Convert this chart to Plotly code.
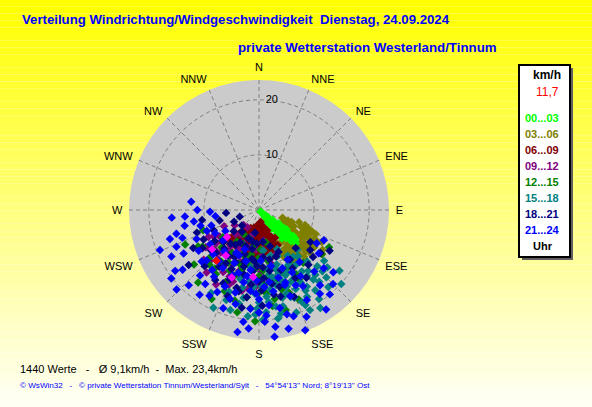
import plotly.graph_objects as go

W, H = 592, 407

# Windrichtungen (Grad) und Kompasstexte
richtung_grad = [0, 22.5, 45, 67.5, 90, 112.5, 135, 157.5, 180, 202.5, 225, 247.5, 270, 292.5, 315, 337.5]
richtung_text = ["N", "NNE", "NE", "ENE", "E", "ESE", "SE", "SSE", "S", "SSW", "SW", "WSW", "W", "WNW", "NW", "NNW"]

# Messwerte je Zeitraum: (Richtung Grad, Geschwindigkeit km/h), aus dem Bild geschaetzt
pts_0003 = [(135,0.4),(132,0.8),(138,1.1),(130,1.5),(141,1.7),(128,2.0),(136,2.2),(144,2.4),(131,2.7),(139,2.9),
            (126,3.1),(134,3.3),(142,3.5),(129,3.8),(137,4.0),(146,4.1),(124,4.3),(132,4.5),(140,4.7),(127,5.0),
            (135,5.2),(143,5.4),(130,5.7),(138,5.9),(125,6.1),(133,6.3),(141,6.6),(128,6.9),(136,7.1),(131,7.5),
            (127,7.8),(134,8.1),(130,8.6),(132,9.0),(129,4.8),(137,3.6),(133,1.3),(139,6.0),(126,5.5),(145,3.0),
            (134,0.6),(136,1.4),(131,1.9),(138,2.6),(133,2.4),(129,3.2),(135,3.9),(140,3.9),(131,4.2),(127,4.6),
            (134,4.9),(138,5.1),(128,5.6),(132,5.8),(140,6.2),(135,6.8),(129,6.3),(133,7.3),(130,7.9),(128,8.3)]
pts_0306 = [(108,4.5),(112,5.2),(118,4.8),(124,5.6),(130,6.0),(136,6.5),(142,6.9),(148,7.2),(152,6.8),(110,6.3),
            (115,7.0),(121,7.4),(127,7.8),(133,8.2),(139,8.6),(145,9.0),(150,9.4),(107,7.6),(112,8.3),(118,8.8),
            (123,9.2),(129,9.6),(135,10.0),(141,10.4),(147,10.1),(110,9.5),(115,10.2),(120,10.6),(126,11.0),(132,11.3),
            (138,11.1),(144,11.5),(113,11.2),(118,11.8),(124,12.1),(130,12.0),(122,13.6),(125,14.0),(117,12.8),(140,8.0),
            (134,7.2),(128,6.8),(146,8.4),(151,8.8),(120,6.0),(114,5.8),(137,9.4),(143,9.8),(131,10.6),(125,8.4),
            (110,5.6),(116,6.2),(122,6.6),(128,7.2),(134,8.6),(140,9.2),(146,9.6),(152,9.6),(108,8.8),(114,9.0),
            (120,9.6),(126,10.2),(132,9.2),(138,10.0),(144,10.8),(150,10.2),(112,10.4),(118,11.2),(124,11.6),(130,11.0),
            (136,11.8),(142,12.0),(116,9.6),(122,8.0),(148,11.2)]
pts_0609 = [(172,2.2),(180,2.6),(188,2.9),(165,3.2),(196,3.4),(205,3.6),(176,3.8),(158,4.0),(214,4.1),(184,4.3),
            (192,4.6),(168,4.8),(200,5.0),(210,5.2),(220,5.5),(155,5.4),(176,5.6),(186,5.9),(162,6.1),(195,6.3),
            (205,6.5),(215,6.7),(225,6.9),(170,6.8),(180,7.1),(152,7.2),(190,7.4),(200,7.6),(210,7.9),(220,8.2),
            (160,7.8),(174,8.0),(184,8.3),(194,8.6),(230,8.8),(166,8.9),(178,9.2),(188,9.0),(204,8.8),(214,9.3),
            (157,6.4),(182,4.9),(198,4.0),(208,6.0),(218,4.8),(170,5.2),(226,7.4),(163,3.9),(150,5.8),(192,7.0),
            (168,3.0),(178,3.4),(190,3.8),(202,4.4),(212,4.6),(160,4.6),(174,4.6),(186,5.2),(196,5.6),(206,5.8),
            (216,6.0),(224,6.0),(164,5.6),(180,6.2),(190,6.6),(200,6.8),(210,7.2),(218,7.6),(170,7.6),(182,7.8),
            (196,8.0),(206,8.4),(158,6.8),(228,7.8),(188,8.2),
            (175,4.0),(185,3.6),(195,4.8),(205,4.8),(172,6.0),(182,6.8),(192,5.4),(202,6.0),(212,6.4),(222,6.4),
            (178,8.6),(198,7.2),(208,7.0),(166,7.2),(186,7.4)]
pts_0912 = [(226,3.9),(230,7.6),(208,7.9),(202,14.7),(195,12.8),(174,7.3),(215,5.5),(188,6.2),(240,9.5),(235,11.8),
            (222,10.4),(212,12.0),(200,10.0),(185,9.3),(178,11.2),(168,9.8),(196,4.8),(205,6.6),(218,8.3),(228,13.5),
            (192,15.0),(182,13.8),(164,12.4),(158,8.5),(210,15.6),(245,7.0),(238,5.2),(220,14.8),(190,8.1),(172,5.6),
            (206,9.2),(198,11.6),(186,10.8),(214,3.8),(232,9.9),(150,10.5),(176,14.5),(224,6.1),(204,13.2),(160,14.0),
            (212,9.8),(196,9.6),(180,10.2),(220,11.6),(206,11.0),(190,12.2),(172,12.8),(228,10.8),(200,13.8),(184,7.2),
            (194,7.0),(216,9.0),(236,8.6),(166,10.6),(210,13.0),(188,14.4),(224,12.8),(178,8.4),(242,10.4),(202,8.6)]
pts_1215 = [(217,13.3),(185,17.9),(195,17.0),(125,13.9),(237,12.2),(239,12.9),(200,8.5),(190,10.2),(180,12.0),(170,9.4),
            (210,11.0),(225,9.6),(205,14.4),(175,15.2),(165,13.0),(188,6.4),(198,5.5),(178,7.2),(215,7.0),(230,15.4),
            (192,19.0),(182,20.2),(172,17.6),(160,16.0),(155,11.8),(208,18.3),(220,17.2),(250,10.8),(245,14.8),(200,12.6),
            (185,14.0),(195,9.0),(168,6.0),(212,5.2),(176,11.0),(188,16.0),(226,12.4),(150,14.6),(165,18.8),(203,16.0),
            (140,12.5),(118,14.4),(233,8.2),(205,6.8),(181,8.8),
            (196,11.2),(184,10.8),(172,12.0),(206,12.2),(216,11.6),(186,13.0),(160,12.0),(150,13.4),(176,13.6),(196,14.8),
            (212,9.2),(222,13.4),(164,15.0),(180,15.0),(200,10.4),(170,16.4),(190,8.2),(156,17.8),(230,11.0),(214,14.0)]
pts_1518 = [(134,14.7),(135,17.3),(137,12.8),(151,18.0),(155,18.4),(200,17.4),(196,18.9),(181,17.9),(140,11.0),(145,13.6),
            (150,15.2),(156,12.5),(160,14.8),(165,16.5),(170,13.2),(175,15.8),(162,10.4),(148,9.8),(142,16.0),(138,18.8),
            (146,19.5),(153,20.4),(158,17.2),(168,19.2),(178,20.0),(186,19.4),(190,16.2),(185,12.8),(192,14.4),(172,10.8),
            (180,9.6),(166,8.5),(155,7.8),(130,16.2),(127,18.3),(132,20.1),(144,10.5),(152,11.3),(163,12.1),(170,17.8),
            (176,18.6),(160,19.8),(150,16.9),(141,14.2),(136,10.0),(128,15.0),(183,15.2),(195,13.0),(200,15.8),(205,19.6),
            (210,17.4),(174,7.4),(188,10.6),(158,9.0),(148,21.0),(162,16.0),(167,14.0),(139,15.6),(145,17.8),(171,11.9),
            (146,12.0),(152,13.8),(158,12.8),(164,11.2),(168,12.6),(155,15.8),(160,16.8),(172,14.6),(178,13.8),(184,14.0),
            (150,11.0),(144,14.8),(140,17.0),(134,16.0),(166,18.0),(174,16.8),(180,16.8),(156,14.2),(148,16.4),(162,13.6),
            (188,13.2),(192,17.4),(170,20.0),(182,19.0),(154,19.2)]
pts_1821 = [(255,7.4),(251,3.7),(196,14.7),(128,11.8),(200,5.5),(210,6.8),(220,8.0),(190,7.2),(185,9.4),(195,10.6),
            (205,11.8),(215,12.6),(225,11.0),(235,9.8),(240,13.8),(175,8.6),(170,11.2),(180,13.0),(165,14.4),(160,9.0),
            (150,12.2),(145,15.0),(188,16.0),(230,6.0),(245,5.0),(260,10.5),(232,16.2),(212,15.0),(200,16.6),(178,17.4),
            (158,17.0),(138,13.4),(122,11.0),(190,4.2),(184,6.1),(198,8.4),(208,9.6),(218,5.0),(228,4.2),(173,5.8),
            (163,6.9),(155,8.4),(170,15.6),(193,12.0),(203,13.7),(186,11.2),(176,12.4),(214,10.0),(148,10.6),(136,9.6),
            (250,12.0),(265,6.0),(242,11.4),(224,14.2),(120,14.8),(125,13.6),(131,13.0),
            (182,10.2),(188,9.0),(196,9.8),(204,10.4),(212,11.4),(220,12.0),(176,10.4),(168,9.2),(200,7.0),(192,5.8),
            (214,7.6),(222,9.4),(230,11.4),(236,12.4),(178,14.6),(186,13.6),(194,15.2),(206,14.8),(160,11.6),(152,14.0),
            (166,16.2),(190,18.0),(246,9.0),(228,8.6),(170,13.6)]
pts_2124 = [(277,12.4),(265,15.9),(265,13.5),(268,8.9),(232,17.6),(234,18.8),(223,18.7),(215,18.8),(207,16.7),(188,20.5),
            (185,21.6),(177,20.3),(162,20.3),(152,18.5),(173,23.2),(166,22.2),(159,23.4),(140,20.0),(141,17.6),(120,12.1),
            (245,12.5),(250,14.8),(255,11.0),(240,15.8),(236,13.2),(228,14.0),(222,16.0),(218,13.8),(212,12.4),(205,10.6),
            (198,12.0),(192,13.4),(186,14.8),(180,16.2),(174,17.4),(168,18.2),(160,16.6),(154,15.2),(148,14.2),(144,18.8),
            (132,15.8),(126,13.4),(115,13.0),(260,12.0),(248,10.2),(242,9.0),(235,10.8),(226,11.6),(216,10.2),(208,8.8),
            (200,7.6),(194,9.6),(188,11.0),(182,12.8),(176,14.0),(170,15.0),(164,12.8),(158,11.4),(150,10.4),(210,18.0),
            (200,19.0),(194,17.6),(180,18.6),(172,21.4),(190,22.5),(165,19.6),(156,21.2),(146,21.8),(135,19.0),(242,18.0),
            (252,17.0),(258,13.8),(270,11.2),(262,8.0),(238,7.2),(230,8.6),(220,9.8),(216,16.6),(204,15.2),(198,17.0),
            (185,18.0),(178,9.2),(168,10.4),(161,14.4),(152,12.8),(142,12.0),(138,15.0),(130,17.6),(232,20.2),(226,20.8),
            (246,16.4),(254,15.6),(248,19.4),(252,9.1),
            (190,12.2),(202,12.8),(214,14.6),(226,13.2),(172,13.2),(160,14.0),(150,16.0),(182,15.2),(196,15.6),(204,9.0),
            (218,11.8),(176,19.2)]
pts_magenta = [(230,11.1),(230,7.6),(185,12.2),(202,13.2),(216,10.2)]
pts_rot = [(220,12.0)]

gruppen = [
    ("00...03", "#00FF00", pts_0003),
    ("03...06", "#808000", pts_0306),
    ("06...09", "#800000", pts_0609),
    ("09...12", "#800080", pts_0912),
    ("12...15", "#008000", pts_1215),
    ("15...18", "#008080", pts_1518),
    ("18...21", "#000080", pts_1821),
    ("21...24", "#0000FF", pts_2124),
]
extra = [("#FF00FF", pts_magenta), ("#FF0000", pts_rot)]

aktuell = "11,7"
stat_text = "1440 Werte   -   Ø 9,1km/h  -  Max. 23,4km/h"
fuss_text = "© WsWin32   -   © private Wetterstation Tinnum/Westerland/Sylt   -   54°54'13'' Nord; 8°19'13'' Ost"
titel1 = "Verteilung Windrichtung/Windgeschwindigkeit  Dienstag, 24.09.2024"
titel2 = "private Wetterstation Westerland/Tinnum"


def px(x):
    return x / W


def py(y):
    return 1 - y / H


def nb(s):
    return s.replace(" ", "\u00a0")


# Zeichenreihenfolge: 03...06 unter 00...03, danach chronologisch
reihenfolge = [1, 0, 2, 3, 4, 5, 6, 7]

fig = go.Figure()
for k in reihenfolge:
    name, farbe, pts = gruppen[k]
    fig.add_trace(go.Scatterpolar(
        theta=[p[0] for p in pts], r=[p[1] for p in pts], mode="markers",
        marker=dict(symbol="diamond", size=6.5, color=farbe, line_width=0),
        name=name, showlegend=False))
for farbe, pts in extra:
    fig.add_trace(go.Scatterpolar(
        theta=[p[0] for p in pts], r=[p[1] for p in pts], mode="markers",
        marker=dict(symbol="diamond", size=6.5, color=farbe, line_width=0),
        showlegend=False))

# Hintergrund: Verlauf gelb -> hellgelb
shapes = []
n = 60
for i in range(n):
    t = i / (n - 1)
    b = int(round(245 * t))
    shapes.append(dict(type="rect", xref="paper", yref="paper", x0=0, x1=1,
                       y0=1 - (i + 1) / n, y1=1 - i / n, layer="below",
                       line_width=0, fillcolor=f"rgb(255,255,{b})"))
# Legendenkasten mit Schatten
shapes.append(dict(type="rect", xref="paper", yref="paper", x0=px(522), x1=px(573),
                   y0=py(260), y1=py(68), line_width=0, fillcolor="#606060"))
shapes.append(dict(type="rect", xref="paper", yref="paper", x0=px(519), x1=px(570),
                   y0=py(257), y1=py(65), line=dict(color="black", width=2), fillcolor="white"))

font = "Liberation Sans, Arial, sans-serif"
ann = []
ann.append(dict(x=px(20), y=py(20), text=f"<b>{nb(titel1)}</b>", xanchor="left",
                font=dict(size=13.2, color="#0000FF")))
ann.append(dict(x=px(236), y=py(48), text=f"<b>{nb(titel2)}</b>", xanchor="left",
                font=dict(size=13.3, color="#0000FF")))
ann.append(dict(x=px(547), y=py(75), text="<b>km/h</b>", xanchor="center", font=dict(size=12, color="black")))
ann.append(dict(x=px(561), y=py(92), text=aktuell, xanchor="right", font=dict(size=12, color="#FF0000")))
for i, (name, farbe, pts) in enumerate(gruppen):
    ann.append(dict(x=px(542), y=py(118 + i * 16.0), text=f"<b>{name}</b>", xanchor="center",
                    font=dict(size=11, color=farbe)))
ann.append(dict(x=px(543), y=py(246), text="<b>Uhr</b>", xanchor="center", font=dict(size=11, color="black")))
ann.append(dict(x=px(18), y=py(369), text=nb(stat_text), xanchor="left", font=dict(size=11, color="black")))
ann.append(dict(x=px(18), y=py(385), text=nb(fuss_text), xanchor="left", font=dict(size=8.1, color="#0000FF")))
for a in ann:
    a.update(xref="paper", yref="paper", showarrow=False, yanchor="middle")

fig.update_layout(
    width=W, height=H, margin=dict(l=0, r=0, t=0, b=0),
    paper_bgcolor="#FFFFF5", font=dict(family=font, size=11, color="black"),
    shapes=shapes, annotations=ann, showlegend=False,
    polar=dict(
        domain=dict(x=[px(129), px(389)], y=[py(340), py(80)]),
        bgcolor="#CBCBCB",
        angularaxis=dict(direction="clockwise", rotation=90, tickmode="array",
                         tickvals=richtung_grad, ticktext=richtung_text,
                         ticks="outside", ticklen=4, tickcolor="rgba(0,0,0,0)",
                         showline=False, gridcolor="#808080", griddash="4px,3px", gridwidth=1,
                         tickfont=dict(size=11, color="black")),
        radialaxis=dict(range=[0, 23.6], angle=90, tickangle=90, side="clockwise",
                        tickvals=[10, 20], ticks="outside", ticklen=4, tickcolor="rgba(0,0,0,0)",
                        showline=False, gridcolor="#808080", griddash="4px,3px", gridwidth=1,
                        tickfont=dict(size=11, color="black")),
    ),
)

# Seitenrand des Browsers entfernen, damit die Grafik bei 0/0 beginnt
fig.write_html("out.html", config={"displayModeBar": False},
               post_script="document.body.style.margin='0';")
